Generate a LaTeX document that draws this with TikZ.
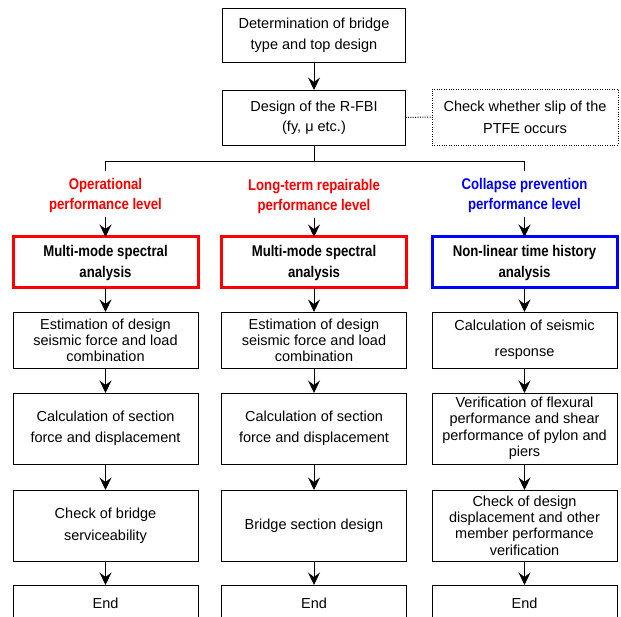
\documentclass[tikz,border=0pt]{standalone}
\usepackage{fontspec}
\setmainfont{Liberation Sans}
\newfontfamily\narrowsans[FakeStretch=0.85]{Liberation Sans}
\usetikzlibrary{arrows.meta}

\tikzset{
  box/.style={draw=black, line width=0.9pt, minimum width=185pt, inner sep=0pt,
    outer sep=0pt, align=center},
  lsk/.style={font=\fontsize{14.5}{#1}\selectfont},
  lsk/.default=20,
  boldtext/.style={font=\narrowsans\bfseries\fontsize{15.5}{#1}\selectfont},
  boldtext/.default=20,
  lbl/.style={inner sep=0pt, outer sep=0pt, minimum height=44pt, align=center,
    boldtext=20},
  mainbox/.style={box, line width=3pt, boldtext=21, minimum height=51pt},
  flow/.style={line width=1pt, -{Stealth[length=12.5pt,width=12pt,inset=4.5pt]}},
  link/.style={line width=1pt},
}

\begin{document}
\begin{tikzpicture}[x=1pt,y=-1pt]
\useasboundingbox (0,0) rectangle (621,617);
\clip (0,0) rectangle (621,617);

% common trunk
\node[box, lsk=21, minimum width=183pt, minimum height=54pt] (top) at (314,35)
  {Determination of bridge\\type and top design};
\node[box, lsk=20, minimum width=183pt, minimum height=55pt] (rfbi) at (314,117.5)
  {Design of the R-FBI\\(fy, μ etc.)};
\node[box, lsk=22, dash pattern=on 1pt off 1.4pt, minimum width=186pt,
  minimum height=56pt] (ptfe) at (525,117) {Check whether slip of the\\PTFE occurs};
\draw[flow] (top) -- (rfbi);
\draw[link, dash pattern=on 1pt off 1.4pt] (rfbi) -- (ptfe);

% branching into the three performance levels
\coordinate (jn) at (314,162);
\coordinate (jl) at (105.5,162);
\coordinate (jr) at (524.5,162);
\coordinate (sl) at (105.5,171);
\coordinate (sr) at (524.5,171);
\draw[link] (rfbi.south) -- (jn);
\draw[link] (sl) -- (jl) -- (jr) -- (sr);

\node[lbl, text=red] (labL) at (105.5,195) {Operational\\performance level};
\node[lbl, text=red] (labM) at (314,196) {Long-term repairable\\performance level};
\node[lbl, text=blue] (labR) at (524.5,195) {Collapse prevention\\performance level};

% analysis method
\node[mainbox, draw=red] (aL) at (105.5,262.5) {Multi-mode spectral\\analysis};
\node[mainbox, draw=red] (aM) at (314,262.5) {Multi-mode spectral\\analysis};
\node[mainbox, draw=blue] (aR) at (524.5,262.5) {Non-linear time history\\analysis};

% second row
\node[box, lsk=16, minimum height=56pt] (bL) at (105.5,340)
  {Estimation of design\\seismic force and load\\combination};
\node[box, lsk=16, minimum height=56pt] (bM) at (314,340)
  {Estimation of design\\seismic force and load\\combination};
\node[box, lsk=26, minimum height=56pt] (bR) at (524.5,340)
  {Calculation of seismic\\response};

% third row
\node[box, lsk=21, minimum height=71pt] (cL) at (105.5,428.5)
  {Calculation of section\\force and displacement};
\node[box, lsk=21, minimum height=71pt] (cM) at (314,428.5)
  {Calculation of section\\force and displacement};
\node[box, lsk=16.5, minimum height=71pt] (cR) at (524.5,428.5)
  {Verification of flexural\\performance and shear\\performance of pylon and\\piers};

% fourth row
\node[box, lsk=22, minimum height=71pt] (dL) at (105.5,525.5)
  {Check of bridge\\serviceability};
\node[box, lsk=20, minimum height=71pt] (dM) at (314,525.5)
  {Bridge section design};
\node[box, lsk=16.3, minimum height=71pt] (dR) at (524.5,525.5)
  {Check of design\\displacement and other\\member performance\\verification};

% end boxes
\node[box, lsk=20, minimum height=36pt] (eL) at (105.5,603) {End};
\node[box, lsk=20, minimum height=36pt] (eM) at (314,603) {End};
\node[box, lsk=20, minimum height=36pt] (eR) at (524.5,603) {End};

% arrows down each column
\foreach \c in {L,M,R}{
  \draw[flow] (lab\c.south) -- (a\c.north);
  \draw[flow] (a\c) -- (b\c);
  \draw[flow] (b\c) -- (c\c);
  \draw[flow] (c\c) -- (d\c);
  \draw[flow] (d\c) -- (e\c);
}
\end{tikzpicture}
\end{document}
